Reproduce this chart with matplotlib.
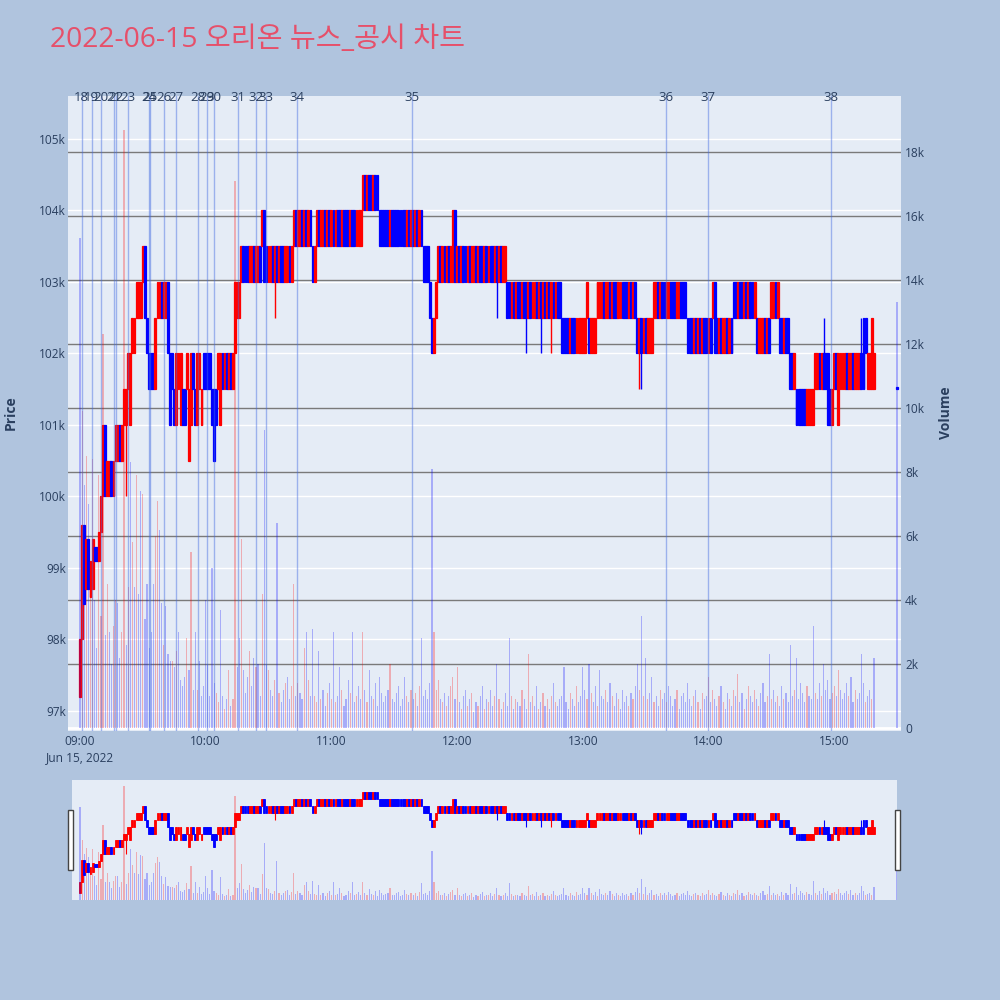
import matplotlib
matplotlib.use("Agg")
import matplotlib.pyplot as plt
import matplotlib.transforms as mtransforms
from matplotlib.lines import Line2D
from matplotlib.patches import Rectangle
import numpy as np
import pandas as pd

plt.rcParams['font.family'] = ['Open Sans', 'Noto Sans CJK KR', 'DejaVu Sans']

TITLE = "2022-06-15 오리온 뉴스_공시 차트"

# one candle per minute from 09:00 (prices in units of 100 KRW), last one = 15:30 closing auction
open_h = [
    972, 980, 996, 987, 994, 986, 987, 993, 993, 991,
    995, 1000, 1010, 1000, 1000, 1005, 1000, 1005, 1005, 1010,
    1005, 1010, 1010, 1015, 1010, 1020, 1020, 1025, 1025, 1025,
    1030, 1035, 1025, 1020, 1020, 1020, 1015, 1025, 1025, 1030,
    1025, 1025, 1030, 1020, 1020, 1015, 1010, 1015, 1010, 1015,
    1015, 1015, 1005, 1010, 1020, 1015, 1010, 1015, 1010, 1020,
    1020, 1020, 1020, 1015, 1015, 1015, 1015, 1010, 1020, 1015,
    1020, 1015, 1020, 1015, 1020, 1025, 1025, 1030, 1035, 1035,
    1035, 1030, 1030, 1035, 1030, 1030, 1035, 1035, 1040, 1035,
    1030, 1030, 1035, 1030, 1035, 1030, 1035, 1035, 1030, 1030,
    1035, 1030, 1035, 1040, 1035, 1035, 1040, 1035, 1040, 1035,
    1040, 1035, 1030, 1035, 1040, 1035, 1035, 1040, 1035, 1040,
    1035, 1040, 1035, 1040, 1040, 1035, 1040, 1040, 1040, 1035,
    1040, 1040, 1035, 1035, 1035, 1040, 1045, 1040, 1045, 1045,
    1040, 1045, 1045, 1040, 1040, 1040, 1040, 1040, 1035, 1040,
    1040, 1040, 1040, 1040, 1040, 1040, 1035, 1040, 1035, 1040,
    1035, 1040, 1035, 1040, 1035, 1035, 1035, 1030, 1025, 1020,
    1025, 1030, 1035, 1030, 1035, 1030, 1035, 1030, 1030, 1040,
    1030, 1035, 1030, 1035, 1035, 1030, 1035, 1030, 1030, 1035,
    1030, 1035, 1035, 1030, 1035, 1030, 1035, 1035, 1030, 1035,
    1030, 1035, 1030, 1030, 1030, 1030, 1025, 1030, 1025, 1030,
    1030, 1025, 1030, 1030, 1025, 1030, 1025, 1025, 1030, 1025,
    1030, 1025, 1030, 1025, 1030, 1025, 1030, 1025, 1030, 1030,
    1025, 1025, 1025, 1025, 1020, 1025, 1025, 1020, 1020, 1020,
    1020, 1020, 1025, 1025, 1020, 1020, 1020, 1025, 1025, 1025,
    1030, 1025, 1025, 1030, 1025, 1030, 1030, 1025, 1025, 1030,
    1030, 1030, 1025, 1030, 1025, 1030, 1025, 1020, 1025, 1020,
    1025, 1020, 1020, 1020, 1025, 1025, 1030, 1025, 1030, 1030,
    1025, 1025, 1030, 1030, 1030, 1025, 1025, 1030, 1030, 1030,
    1025, 1025, 1025, 1020, 1025, 1020, 1025, 1020, 1025, 1025,
    1020, 1025, 1025, 1030, 1025, 1020, 1025, 1020, 1020, 1025,
    1020, 1025, 1030, 1030, 1025, 1030, 1030, 1025, 1030, 1025,
    1030, 1030, 1025, 1025, 1020, 1020, 1020, 1025, 1020, 1025,
    1025, 1025, 1030, 1025, 1025, 1025, 1020, 1025, 1025, 1020,
    1020, 1015, 1015, 1015, 1015, 1015, 1015, 1010, 1010, 1010,
    1010, 1015, 1015, 1020, 1015, 1020, 1020, 1020, 1015, 1010,
    1015, 1020, 1010, 1015, 1015, 1015, 1020, 1015, 1015, 1020,
    1015, 1015, 1015, 1020, 1025, 1025, 1015, 1015, 1015, 1015,
    1015,
]
close_h = [
    980, 996, 985, 994, 987, 991, 994, 991, 991, 995,
    1000, 1010, 1000, 1005, 1005, 1000, 1005, 1010, 1010, 1005,
    1010, 1015, 1015, 1020, 1020, 1025, 1025, 1030, 1030, 1030,
    1035, 1025, 1020, 1015, 1015, 1015, 1025, 1030, 1030, 1025,
    1030, 1030, 1020, 1010, 1015, 1010, 1020, 1020, 1020, 1010,
    1010, 1020, 1015, 1020, 1015, 1010, 1020, 1020, 1015, 1015,
    1015, 1015, 1015, 1010, 1005, 1010, 1020, 1020, 1015, 1020,
    1015, 1020, 1015, 1020, 1030, 1030, 1030, 1035, 1030, 1030,
    1030, 1035, 1035, 1030, 1035, 1035, 1030, 1040, 1030, 1030,
    1035, 1035, 1030, 1035, 1030, 1035, 1030, 1030, 1035, 1035,
    1030, 1035, 1040, 1035, 1040, 1040, 1035, 1040, 1035, 1040,
    1035, 1030, 1035, 1040, 1035, 1040, 1040, 1035, 1040, 1035,
    1040, 1035, 1040, 1035, 1035, 1040, 1035, 1035, 1035, 1040,
    1035, 1035, 1040, 1040, 1040, 1045, 1040, 1045, 1040, 1040,
    1045, 1040, 1040, 1035, 1035, 1035, 1035, 1035, 1040, 1035,
    1035, 1035, 1035, 1035, 1035, 1035, 1040, 1035, 1040, 1035,
    1040, 1035, 1040, 1035, 1030, 1030, 1030, 1025, 1020, 1025,
    1030, 1035, 1030, 1035, 1030, 1035, 1030, 1035, 1040, 1030,
    1035, 1030, 1035, 1030, 1030, 1035, 1030, 1035, 1035, 1030,
    1035, 1030, 1030, 1035, 1030, 1035, 1030, 1030, 1035, 1030,
    1035, 1030, 1035, 1035, 1025, 1025, 1030, 1025, 1030, 1025,
    1025, 1030, 1025, 1025, 1030, 1025, 1030, 1030, 1025, 1030,
    1025, 1030, 1025, 1030, 1025, 1030, 1025, 1030, 1025, 1025,
    1020, 1020, 1020, 1020, 1025, 1020, 1020, 1025, 1025, 1025,
    1025, 1025, 1030, 1020, 1025, 1025, 1025, 1030, 1030, 1030,
    1025, 1030, 1030, 1025, 1030, 1025, 1025, 1030, 1030, 1025,
    1025, 1025, 1030, 1025, 1030, 1025, 1020, 1025, 1020, 1025,
    1020, 1025, 1025, 1025, 1030, 1030, 1025, 1030, 1025, 1025,
    1030, 1030, 1025, 1025, 1025, 1030, 1030, 1025, 1025, 1025,
    1020, 1020, 1020, 1025, 1020, 1025, 1020, 1025, 1020, 1020,
    1025, 1020, 1030, 1020, 1020, 1025, 1020, 1025, 1025, 1020,
    1025, 1020, 1025, 1025, 1030, 1025, 1025, 1030, 1025, 1030,
    1025, 1025, 1030, 1020, 1025, 1025, 1025, 1020, 1025, 1020,
    1030, 1030, 1025, 1030, 1020, 1020, 1025, 1020, 1020, 1015,
    1015, 1020, 1010, 1010, 1010, 1010, 1010, 1015, 1015, 1015,
    1015, 1020, 1020, 1015, 1020, 1015, 1015, 1010, 1010, 1015,
    1020, 1015, 1020, 1020, 1020, 1020, 1015, 1020, 1020, 1015,
    1020, 1020, 1020, 1015, 1015, 1020, 1020, 1020, 1025, 1020,
    1015,
]
# traded volume, hundreds of shares
volume_h = [
    153, 99, 76, 85, 70, 42, 84, 40, 25, 79,
    35, 123, 29, 45, 30, 20, 32, 40, 39, 22,
    30, 187, 26, 44, 83, 58, 44, 79, 42, 74,
    73, 34, 45, 25, 30, 45, 60, 71, 62, 39,
    26, 38, 23, 21, 21, 19, 24, 30, 15, 13,
    16, 28, 18, 55, 12, 30, 12, 21, 10, 13,
    40, 20, 10, 50, 14, 11, 8, 37, 10, 6,
    9, 18, 7, 9, 171, 19, 28, 59, 18, 11,
    16, 24, 13, 22, 19, 20, 10, 42, 93, 20,
    18, 12, 10, 15, 64, 11, 8, 12, 14, 16,
    9, 13, 45, 10, 14, 11, 9, 25, 30, 15,
    10, 31, 10, 8, 24, 9, 12, 7, 11, 14,
    9, 30, 8, 10, 19, 12, 7, 9, 15, 11,
    30, 8, 10, 13, 9, 30, 12, 8, 18, 10,
    9, 14, 7, 16, 11, 8, 10, 12, 20, 9,
    8, 11, 13, 7, 9, 16, 10, 8, 12, 9,
    11, 7, 13, 28, 10, 12, 9, 14, 81, 30,
    12, 15, 9, 8, 11, 7, 10, 13, 16, 9,
    19, 8, 6, 10, 12, 7, 9, 11, 5, 8,
    7, 10, 13, 6, 9, 8, 12, 7, 10, 20,
    9, 6, 8, 11, 7, 28, 10, 6, 9, 8,
    7, 12, 9, 6, 23, 8, 10, 7, 13, 6,
    8, 11, 7, 9, 6, 10, 14, 8, 7, 9,
    10, 19, 8, 6, 11, 9, 7, 13, 8, 10,
    19, 12, 9, 20, 11, 8, 13, 7, 18, 10,
    9, 12, 8, 14, 10, 7, 11, 9, 6, 12,
    8, 10, 7, 11, 9, 13, 20, 12, 35, 10,
    22, 9, 11, 16, 8, 10, 7, 12, 9, 11,
    8, 13, 10, 7, 9, 12, 6, 10, 11, 8,
    14, 9, 7, 10, 12, 8, 6, 11, 9, 10,
    16, 8, 12, 9, 7, 10, 13, 8, 6, 11,
    9, 7, 12, 10, 17, 8, 11, 6, 9, 13,
    10, 8, 12, 9, 7, 11, 14, 8, 10, 23,
    9, 12, 8, 10, 7, 13, 9, 11, 8, 26,
    10, 12, 22, 9, 14, 11, 8, 13, 10, 9,
    32, 11, 9, 14, 10, 20, 12, 15, 9, 11,
    13, 10, 18, 12, 9, 11, 14, 10, 16, 8,
    12, 9, 11, 23, 14, 8, 10, 12, 9, 22,
    133,
]
# wicks that reach beyond the candle body (units of 100 KRW)
low_ext = {"09:00": 972, "09:22": 1000, "10:33": 1025, "12:19": 1025, "12:33": 1020,
           "12:40": 1020, "12:45": 1020, "13:27": 1015, "13:28": 1015}
high_ext = {"14:55": 1025, "15:13": 1025}

news_labels = [str(n) for n in range(18, 39)]
news_times = ["09:00:48", "09:05:36", "09:09:54", "09:16:24", "09:17:00", "09:23:00",
              "09:32:54", "09:33:24", "09:40:00", "09:45:54", "09:56:30", "10:00:30",
              "10:04:00", "10:15:18", "10:24:00", "10:28:54", "10:43:24", "11:38:30",
              "13:39:42", "13:59:48", "14:58:30"]

price_ticks = [97000, 98000, 99000, 100000, 101000, 102000, 103000, 104000, 105000]
price_tick_labels = ["97k", "98k", "99k", "100k", "101k", "102k", "103k", "104k", "105k"]
volume_ticks = [0, 2000, 4000, 6000, 8000, 10000, 12000, 14000, 16000, 18000]
volume_tick_labels = ["0", "2k", "4k", "6k", "8k", "10k", "12k", "14k", "16k", "18k"]
time_ticks = ["09:00", "10:00", "11:00", "12:00", "13:00", "14:00", "15:00"]

assert len(open_h) == len(close_h) == len(volume_h), (len(open_h), len(close_h), len(volume_h))

# ---------------------------------------------------------------- derived
day = "2022-06-15 "
t0 = pd.Timestamp(day + "09:00")
times = pd.date_range(t0, periods=len(open_h) - 1, freq="min").append(
    pd.DatetimeIndex([pd.Timestamp(day + "15:30")]))
xm = ((times - t0).total_seconds() / 60.0).to_numpy()
labels_hm = [t.strftime("%H:%M") for t in times]

o = np.array(open_h, float) * 100
c = np.array(close_h, float) * 100
hi = np.maximum(o, c)
lo = np.minimum(o, c)
for k, v in low_ext.items():
    lo[labels_hm.index(k)] = v * 100
for k, v in high_ext.items():
    hi[labels_hm.index(k)] = v * 100
vol = np.array(volume_h, float) * 100

RED, BLUE = "#FF0000", "#0000FF"
cand_col = [RED if cc > oo else BLUE for oo, cc in zip(o, c)]
vol_col = [BLUE] + [RED if c[i] > c[i - 1] else BLUE for i in range(1, len(c))]

news_x = [(pd.Timestamp(day + t) - t0).total_seconds() / 60.0 for t in news_times]
tick_x = [(pd.Timestamp(day + t) - t0).total_seconds() / 60.0 for t in time_ticks]

BG = "#B0C4DE"
PLOT_BG = "#E5ECF6"
TXT = "#2a3f5f"

fig = plt.figure(figsize=(10, 10), dpi=100, facecolor=BG)

XLIM = (-5.73, 391.9)
PLIM = (96720, 105600)
VLIM = (-94, 19750)


def draw_candles(axp, axv, body_w, lw_body, lw_wick, vol_w, vol_alpha):
    height = np.maximum(np.abs(c - o), 25)
    axp.vlines(xm, lo, hi, colors=cand_col, lw=lw_wick, zorder=2)
    axp.bar(xm, height, bottom=np.minimum(o, c), width=body_w, color=cand_col,
            edgecolor=cand_col, linewidth=lw_body, zorder=2)
    axv.bar(xm, vol, width=vol_w, color=vol_col, alpha=vol_alpha, linewidth=0, zorder=3)


# ---------------------------------------------------------------- main chart
ax = fig.add_axes([0.068, 0.269, 0.833, 0.635])
ax.set_facecolor(PLOT_BG)
ax2 = ax.twinx()
ax2.patch.set_visible(False)

ax.set_xlim(*XLIM)
ax.set_ylim(*PLIM)
ax2.set_ylim(*VLIM)

ax.set_yticks(price_ticks)
ax.set_yticklabels(price_tick_labels)
ax2.set_yticks(volume_ticks)
ax2.set_yticklabels(volume_tick_labels)
ax.set_xticks(tick_x)
ax.set_xticklabels(time_ticks)

ax.grid(axis='y', color='white', lw=1.0, zorder=0)
ax.set_axisbelow(True)
ax2.grid(False)
blend = mtransforms.blended_transform_factory(ax.transAxes, ax2.transData)
for v in volume_ticks[1:]:
    ax.add_line(Line2D([0, 1], [v, v], transform=blend, color='#7a7a7a', lw=1.0, zorder=1))
ax.add_line(Line2D([0, 1], [0, 0], transform=blend, color='white', lw=2.0, zorder=1))

draw_candles(ax, ax2, 0.9, 0.9, 1.0, 0.55, 0.27)

for xv, lab in zip(news_x, news_labels):
    ax2.axvline(xv, color='#4169E1', alpha=0.45, lw=1.0, zorder=5)
    ax2.text(xv, 1.0 - 1.5 / 635, lab, transform=mtransforms.blended_transform_factory(ax2.transData, ax2.transAxes),
             ha='center', va='center', fontsize=9.5, color=TXT, zorder=6)

for a in (ax, ax2):
    for s in a.spines.values():
        s.set_visible(False)
ax.tick_params(axis='y', length=0, labelsize=8.6, labelcolor=TXT, pad=1.5)
ax2.tick_params(axis='y', length=0, labelsize=8.6, labelcolor=TXT, pad=3)
ax.tick_params(axis='x', length=0, labelsize=8.6, labelcolor=TXT, pad=3)

ax.text(tick_x[0], -0.0425, "Jun 15, 2022",
        transform=mtransforms.blended_transform_factory(ax.transData, ax.transAxes),
        ha='center', va='center', fontsize=8.6, color=TXT)

fig.text(0.011, 0.587, "Price", rotation=90, ha='center', va='center',
         fontsize=10, fontweight='bold', color=TXT)
fig.text(0.946, 0.587, "Volume", rotation=90, ha='center', va='center',
         fontsize=10, fontweight='bold', color=TXT)
fig.text(0.05, 0.960, TITLE, ha='left', va='center', fontsize=20.3, color='#E6506A')

# ---------------------------------------------------------------- range slider
sax = fig.add_axes([0.072, 0.100, 0.825, 0.120])
sax.set_facecolor(PLOT_BG)
sax2 = sax.twinx()
sax2.patch.set_visible(False)
sax.set_xlim(-3.82, 390.0)
sax.set_ylim(96690, 105370)
sax2.set_ylim(0, 19700)
draw_candles(sax, sax2, 0.9, 0.6, 0.8, 0.55, 0.27)
for a in (sax, sax2):
    a.set_xticks([])
    a.set_yticks([])
    for s in a.spines.values():
        s.set_visible(False)

for hx in (0.068, 0.895):
    fig.patches.append(Rectangle((hx, 0.130), 0.005, 0.060, transform=fig.transFigure,
                                 facecolor='white', edgecolor='#444444', lw=1.0))

fig.savefig("out.png", dpi=100, facecolor=BG)
